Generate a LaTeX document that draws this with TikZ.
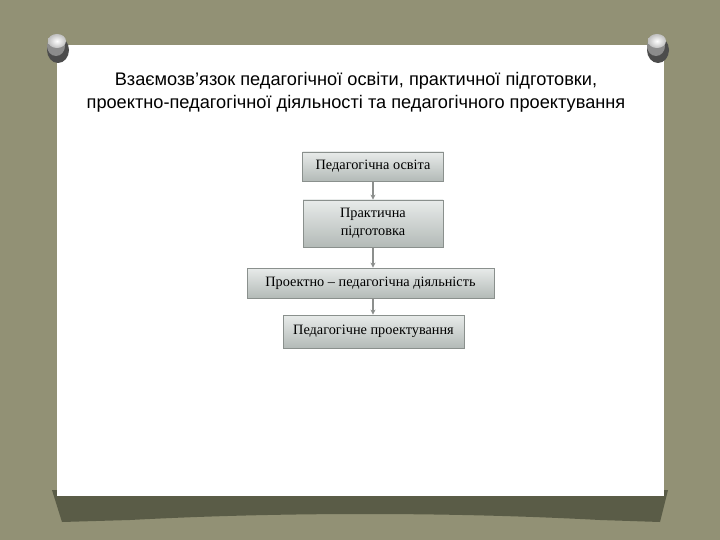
\documentclass[tikz,border=0pt]{standalone}
\usepackage{fontspec}
\setmainfont{Liberation Serif}
\newfontfamily\titlefont{Liberation Sans}
\usetikzlibrary{arrows.meta,shadings}
\definecolor{bgolive}{HTML}{929175}
\definecolor{shadowc}{HTML}{5A5C47}
\definecolor{boxtop}{HTML}{E8EBEA}
\definecolor{boxbot}{HTML}{B3BAB7}
\definecolor{boxline}{HTML}{8A908D}
\definecolor{linkc}{HTML}{8C8F8D}
\tikzset{
  flowbox/.style={draw=boxline, line width=0.8pt, top color=boxtop, bottom color=boxbot,
    font=\fontsize{14.3}{18}\selectfont, align=center, inner sep=0pt},
  link/.style={draw=linkc, line width=1.4pt, -{Stealth[length=5pt,width=5pt]}},
}
\begin{document}
\begin{tikzpicture}[x=1pt,y=-1pt]
\useasboundingbox (0,0) rectangle (720,540);
\fill[bgolive] (0,0) rectangle (720,540);
% shadow under paper
\fill[shadowc] (52,490) -- (668,490) -- (660,522) -- (600,520) .. controls (450,512) and (280,512) .. (130,520) -- (62,522) -- cycle;
% paper
\fill[white] (57,45) rectangle (664,496);
% pins
\foreach \px in {60,660} {
  \fill[black!70] (\px-2,50) ellipse (11 and 13);
  \fill[black!45] (\px-4,46) ellipse (9 and 10);
  \shade[inner color=white, outer color=black!25] (\px-3,41) ellipse (9 and 7);
}
% title
\node[font=\titlefont\fontsize{18.2}{22.5}\selectfont, align=center, anchor=north] (title) at (356,69)
  {Взаємозв’язок педагогічної освіти, практичної підготовки,\\
   проектно-педагогічної діяльності та педагогічного проектування};
% boxes
\node[flowbox, minimum width=141, minimum height=29] (b1) at (373,166.5) {Педагогічна освіта};
\node[flowbox, minimum width=140, minimum height=47] (b2) at (373,223.5) {Практична\\підготовка};
\node[flowbox, minimum width=247, minimum height=30] (b3) at (370.5,283) {Проектно – педагогічна діяльність};
\node[flowbox, minimum width=181, minimum height=33] (b4) at (373.5,331.5) {Педагогічне проектування};
% connectors
\draw[link] (b1.south -| 373,0) -- (b2.north -| 373,0);
\draw[link] (b2.south -| 373,0) -- (b3.north -| 373,0);
\draw[link] (b3.south -| 373,0) -- (b4.north -| 373,0);
\end{tikzpicture}
\end{document}
